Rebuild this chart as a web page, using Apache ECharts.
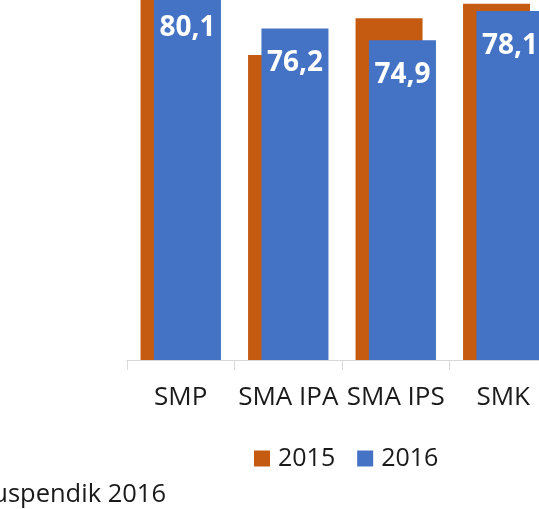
<!DOCTYPE html>
<html>
<head>
<meta charset="utf-8">
<script src="https://cdn.jsdelivr.net/npm/echarts@6/dist/echarts.min.js"></script>
<style>
	html, body { margin: 0; padding: 0; background: #fff; }
	#chart { width: 539px; height: 509px; }
</style>
</head>
<body>
<div id="chart"></div>
<script>
	// kategori jenjang
	var categories = ['SMP', 'SMA IPA', 'SMA IPS', 'SMK'];
	var data2015 = [81.0, 73.3, 77.3, 78.9];
	var data2016 = [80.1, 76.2, 74.9, 78.1];
	var seriesNames = ['2015', '2016'];
	var sourceText = 'Sumber: Puspendik 2016';

	var font = '"Open Sans", sans-serif';
	var chart = echarts.init(document.getElementById('chart'), null, { renderer: 'canvas' });

	var option = {
		animation: false,
		grid: {
			left: 127,
			width: 430,
			top: -43,
			height: 403,
			outerBoundsMode: 'none',
			containLabel: false
		},
		legend: {
			data: seriesNames,
			left: 254,
			top: 446,
			padding: 0,
			icon: 'rect',
			itemWidth: 16,
			itemHeight: 16,
			itemGap: 22,
			textStyle: {
				fontFamily: font,
				fontSize: 25,
				color: '#1a1a1a',
				padding: [0, 0, 0, 3]
			}
		},
		xAxis: {
			type: 'category',
			data: categories,
			axisLine: { lineStyle: { color: '#d9d9d9', width: 1 } },
			axisTick: { show: true, length: 10, lineStyle: { color: '#d9d9d9' } },
			axisLabel: {
				margin: 25,
				interval: 0,
				fontFamily: font,
				fontSize: 26,
				color: '#1a1a1a'
			}
		},
		yAxis: {
			type: 'value',
			min: 40,
			max: 84,
			show: false,
			splitLine: { show: false }
		},
		series: [
			{
				name: '2015',
				type: 'bar',
				data: data2015,
				barWidth: 67,
				barGap: '-80%',
				itemStyle: { color: '#c55a11' }
			},
			{
				name: '2016',
				type: 'bar',
				data: data2016,
				barWidth: 67,
				barGap: '-80%',
				itemStyle: { color: '#4472c4' },
				label: {
					show: true,
					position: 'insideTop',
					distance: 21,
					fontFamily: font,
					fontSize: 28,
					fontWeight: 'bold',
					color: '#fff',
					formatter: function (p) {
						return p.value.toFixed(1).replace('.', ',');
					}
				}
			}
		],
		graphic: [
			{
				type: 'text',
				x: 166,
				y: 495,
				style: {
					text: sourceText,
					fontFamily: font,
					fontSize: 25.5,
					fill: '#1a1a1a',
					textAlign: 'right',
					textVerticalAlign: 'middle'
				}
			}
		]
	};
	chart.setOption(option);
</script>
</body>
</html>
